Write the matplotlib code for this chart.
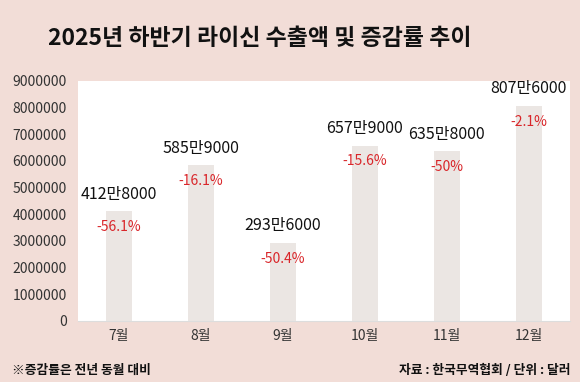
import matplotlib.pyplot as plt

plt.rcParams['font.family'] = ['Noto Sans CJK KR', 'DejaVu Sans']

months = ['7월', '8월', '9월', '10월', '11월', '12월']
exports = [4128000, 5859000, 2936000, 6579000, 6358000, 8076000]
value_labels = ['412만8000', '585만9000', '293만6000', '657만9000', '635만8000', '807만6000']
change_labels = ['-56.1%', '-16.1%', '-50.4%', '-15.6%', '-50%', '-2.1%']
yticks = list(range(0, 9000001, 1000000))

bg = '#f2ddd7'
fig = plt.figure(figsize=(5.8, 3.82), dpi=100, facecolor=bg)
ax = fig.add_axes([0.1345, 0.16, 0.848, 0.628])
ax.set_facecolor('white')

x = range(len(months))
ax.bar(x, exports, width=0.31, color='#ebe6e3', zorder=2)

for i, v in enumerate(exports):
    ax.annotate(value_labels[i], (i, v), xytext=(0, 12), textcoords='offset points',
                ha='center', va='center', fontsize=11.5, color='#111111')
    ax.annotate(change_labels[i], (i, v), xytext=(0, -11.5), textcoords='offset points',
                ha='center', va='center', fontsize=10, color='#d9262a')

ax.set_xlim(-0.5, len(months) - 0.5)
ax.set_ylim(0, 9000000)
ax.set_xticks(list(x))
ax.set_xticklabels(months, fontsize=10, color='#333333')
ax.set_yticks(yticks)
ax.set_yticklabels([str(t) for t in yticks], fontsize=10, color='#333333')
ax.tick_params(length=0, pad=8)
ax.tick_params(axis='x', pad=6)
for s in ['top', 'right', 'left']:
    ax.spines[s].set_visible(False)
ax.spines['bottom'].set_color('#dddddd')

fig.text(0.448, 0.90, '2025년 하반기 라이신 수출액 및 증감률 추이', ha='center', va='center',
         fontsize=16.5, fontweight='bold', color='#111111')
fig.text(0.02, 0.031, '※증감률은 전년 동월 대비', ha='left', va='center',
         fontsize=9.2, fontweight='bold', color='#111111')
fig.text(0.983, 0.031, '자료 : 한국무역협회 / 단위 : 달러', ha='right', va='center',
         fontsize=9.2, fontweight='bold', color='#111111')

fig.savefig('out.png', dpi=100, facecolor=bg)
